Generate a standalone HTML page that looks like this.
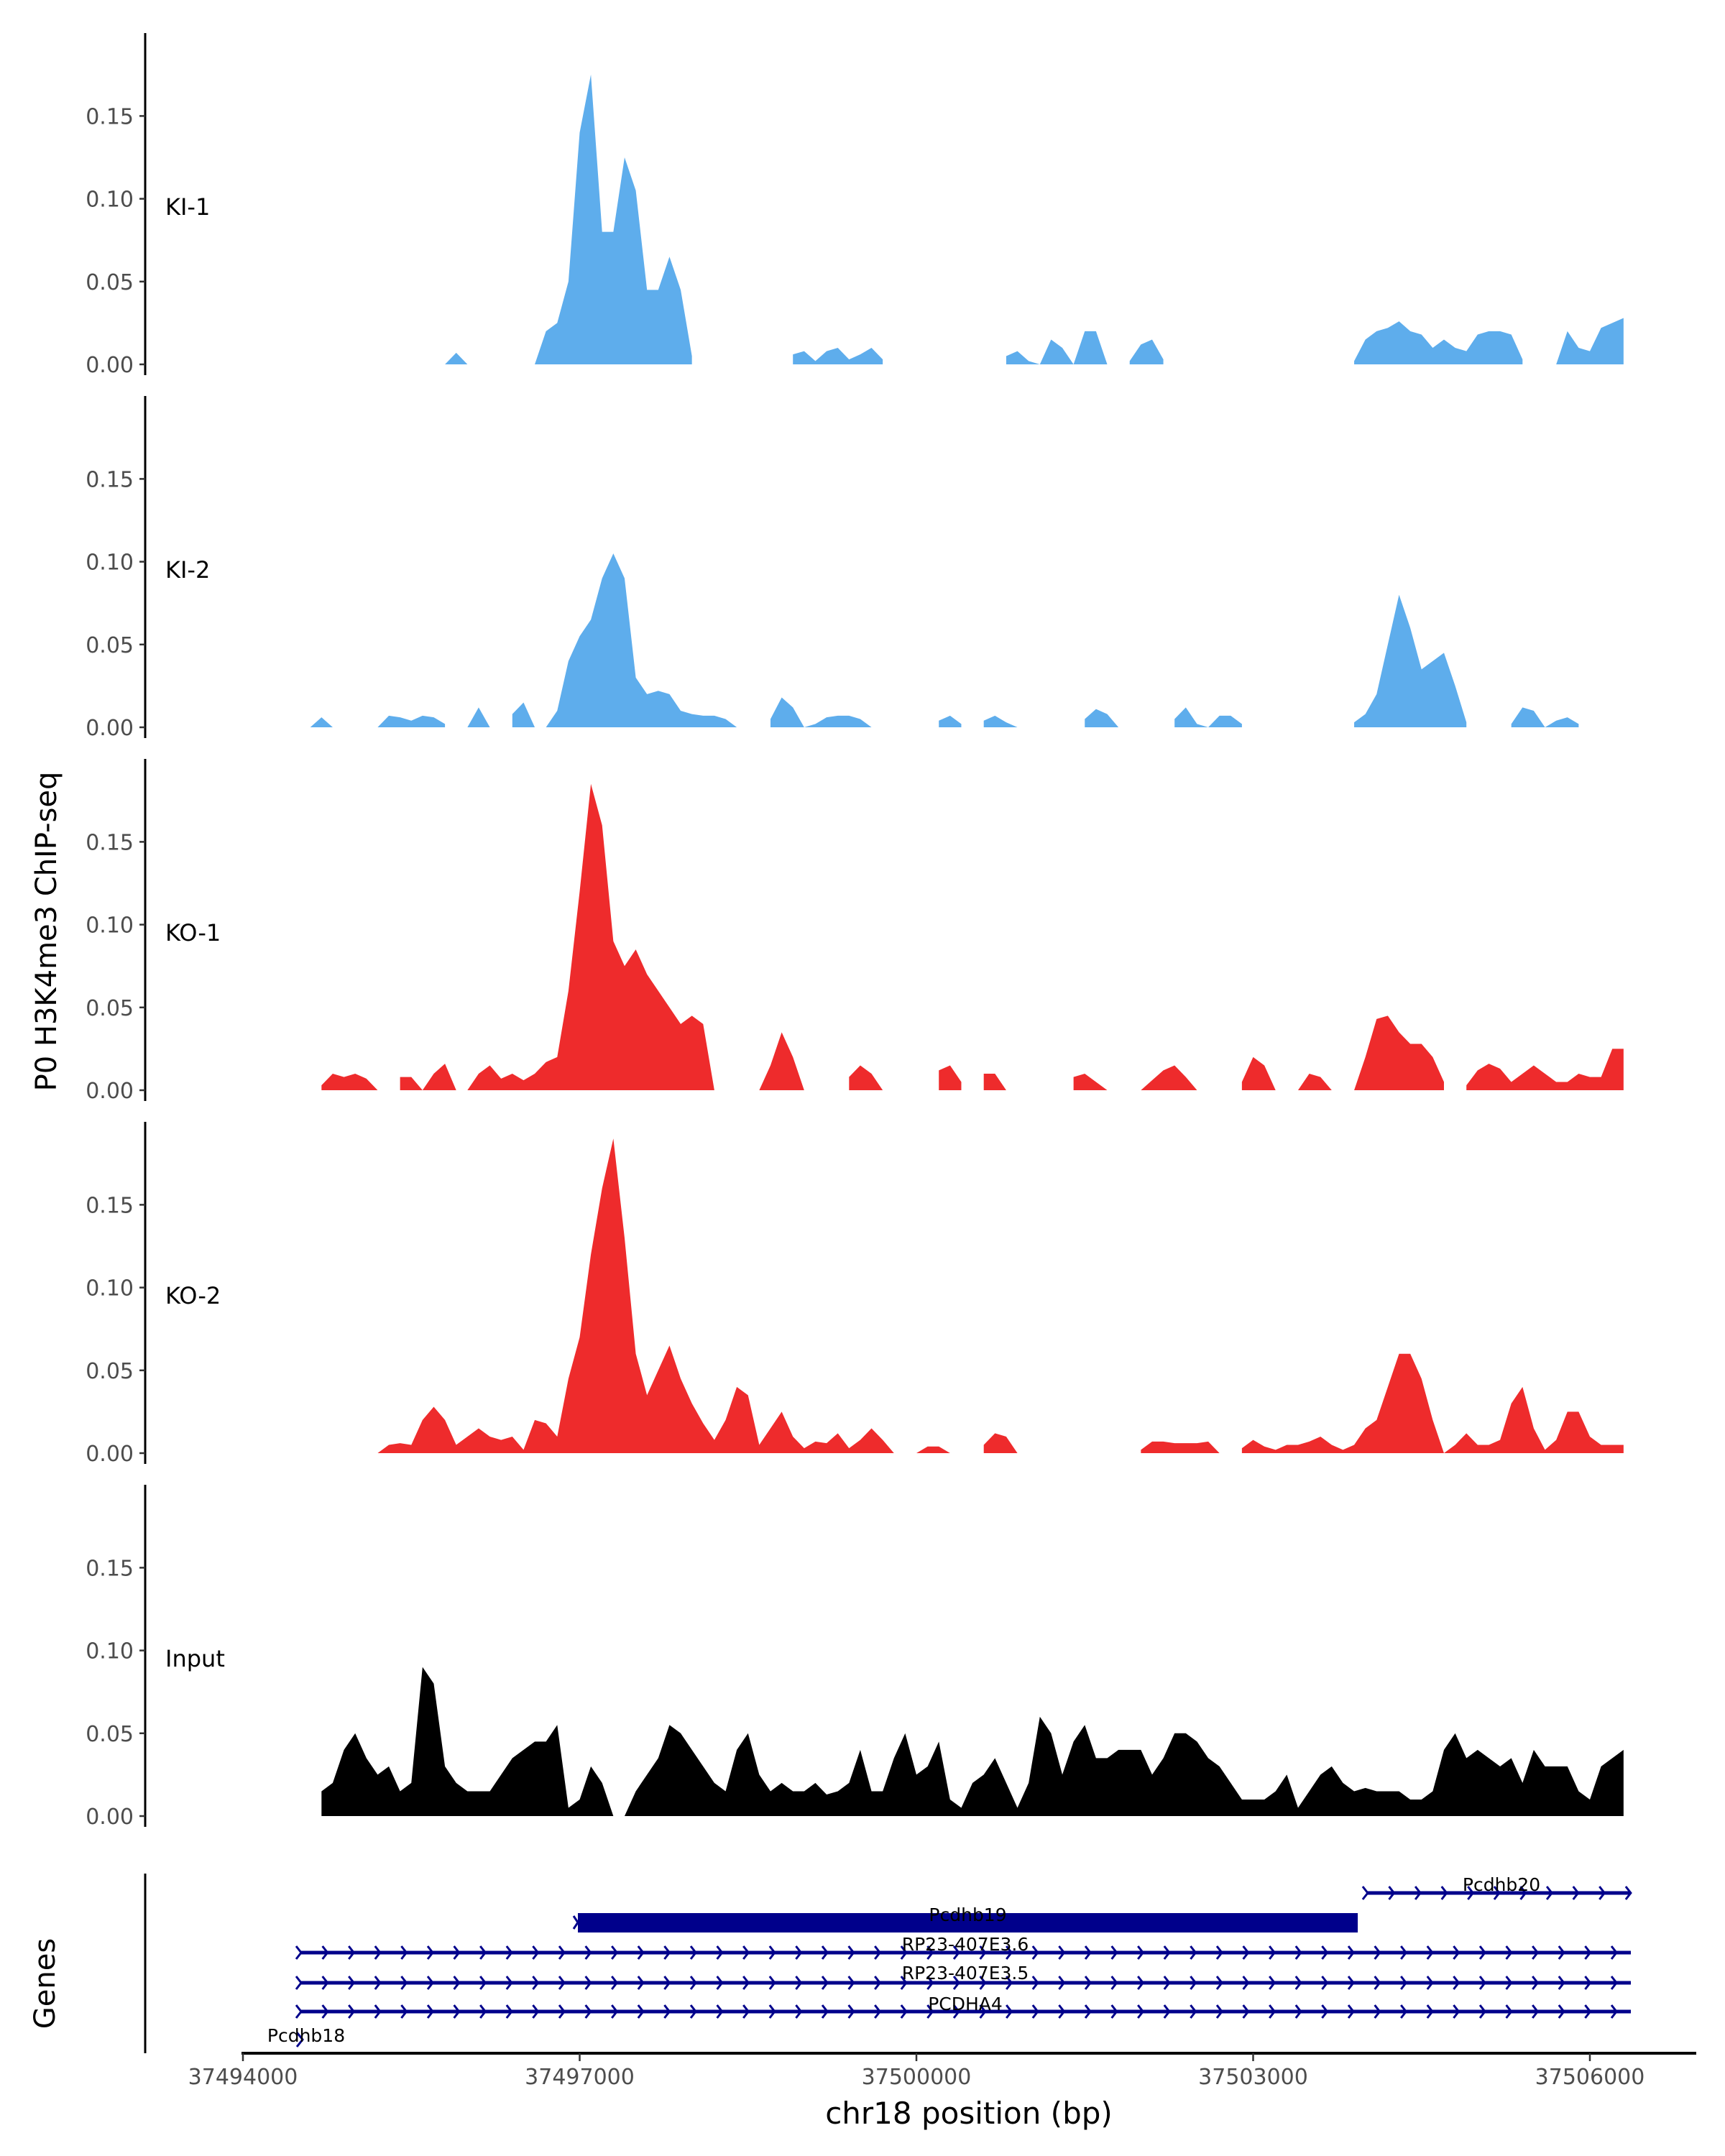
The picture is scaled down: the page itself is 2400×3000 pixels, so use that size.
<!DOCTYPE html>
<html><head><meta charset="utf-8"><style>
html,body{margin:0;padding:0;background:#fff}
svg{display:block;font-family:"DejaVu Sans","Liberation Sans",sans-serif}
</style></head><body>
<svg id="chart" width="2400" height="3000" viewBox="0 0 2400 3000" xmlns="http://www.w3.org/2000/svg">
<g id="tracks"></g>
<g id="genes"></g>
<g id="axes"></g>
<text x="0" y="0" transform="translate(78,1296) rotate(-90)" text-anchor="middle" font-size="40" fill="#000">P0 H3K4me3 ChIP-seq</text>
<text x="0" y="0" transform="translate(76,2760) rotate(-90)" text-anchor="middle" font-size="40" fill="#000">Genes</text>
<text x="1348" y="2955" text-anchor="middle" font-size="42" fill="#000">chr18 position (bp)</text>
</svg>
<script>
const gridStart = 37494500, gridStep = 100;
const sampleNames = ["KI-1","KI-2","KO-1","KO-2","Input"];
const sampleColors = ["#5eadec","#5eadec","#ee2b2c","#ee2b2c","#000000"];
const yTicks = [0, 0.05, 0.10, 0.15];
const yTickLabels = ["0.00","0.05","0.10","0.15"];
const xTicks = [37494000, 37497000, 37500000, 37503000, 37506000];
const N = null;
const ki1 = [N,N,N,N,N,N,N,N,N,N,N,N,N,0,0.007,0,N,N,N,N,N,0,0.02,0.025,0.05,0.14,0.175,0.08,0.08,0.125,0.105,0.045,0.045,0.065,0.045,0.005,N,N,N,N,N,N,N,N,0.006,0.008,0.002,0.008,0.01,0.003,0.006,0.01,0.003,N,N,N,N,N,N,N,N,N,N,0.005,0.008,0.002,0,0.015,0.01,0,0.02,0.02,0,N,0.002,0.012,0.015,0.003,N,N,N,N,N,N,N,N,N,N,N,N,N,N,N,N,0.002,0.015,0.02,0.022,0.026,0.02,0.018,0.01,0.015,0.01,0.008,0.018,0.02,0.02,0.018,0.003,N,N,0,0.02,0.01,0.008,0.022,0.025,0.028];
const ki2 = [N,0,0.006,0,N,N,N,0,0.007,0.006,0.004,0.007,0.006,0.002,N,0,0.012,0,N,0.008,0.015,0,0,0.01,0.04,0.055,0.065,0.09,0.105,0.09,0.03,0.02,0.022,0.02,0.01,0.008,0.007,0.007,0.005,0,N,N,0.005,0.018,0.012,0,0.002,0.006,0.007,0.007,0.005,0,N,N,N,N,N,0.004,0.007,0.002,N,0.004,0.007,0.003,0,N,N,N,N,N,0.005,0.011,0.008,0,N,N,N,N,0.005,0.012,0.002,0,0.007,0.007,0.002,N,N,N,N,N,N,N,N,N,0.003,0.008,0.02,0.05,0.08,0.06,0.035,0.04,0.045,0.025,0.003,N,N,N,0.002,0.012,0.01,0,0.004,0.006,0.002,N,N,N,N];
const ko1 = [N,N,0.003,0.01,0.008,0.01,0.007,0,N,0.008,0.008,0,0.01,0.016,0,0,0.01,0.015,0.007,0.01,0.006,0.01,0.017,0.02,0.06,0.12,0.185,0.16,0.09,0.075,0.085,0.07,0.06,0.05,0.04,0.045,0.04,0,N,N,N,0,0.015,0.035,0.02,0,N,N,N,0.008,0.015,0.01,0,N,N,N,N,0.012,0.015,0.005,N,0.01,0.01,0,N,N,N,N,N,0.008,0.01,0.005,0,N,N,0,0.006,0.012,0.015,0.008,0,N,N,N,0.005,0.02,0.015,0,N,0,0.01,0.008,0,N,0,0.02,0.043,0.045,0.035,0.028,0.028,0.02,0.005,N,0.003,0.012,0.016,0.013,0.005,0.01,0.015,0.01,0.005,0.005,0.01,0.008,0.008,0.025,0.025];
const ko2 = [N,N,N,N,N,N,N,0,0.005,0.006,0.005,0.02,0.028,0.02,0.005,0.01,0.015,0.01,0.008,0.01,0.002,0.02,0.018,0.01,0.045,0.07,0.12,0.16,0.19,0.13,0.06,0.035,0.05,0.065,0.045,0.03,0.018,0.008,0.02,0.04,0.035,0.005,0.015,0.025,0.01,0.003,0.007,0.006,0.012,0.003,0.008,0.015,0.008,0,N,0,0.004,0.004,0,N,N,0.005,0.012,0.01,0,N,N,N,N,N,N,N,N,N,N,0.002,0.007,0.007,0.006,0.006,0.006,0.007,0,N,0.003,0.008,0.004,0.002,0.005,0.005,0.007,0.01,0.005,0.002,0.005,0.015,0.02,0.04,0.06,0.06,0.045,0.02,0,0.005,0.012,0.005,0.005,0.008,0.03,0.04,0.015,0.002,0.008,0.025,0.025,0.01,0.005,0.005,0.005];
const inputTrack = [N,N,0.015,0.02,0.04,0.05,0.035,0.025,0.03,0.015,0.02,0.09,0.08,0.03,0.02,0.015,0.015,0.015,0.025,0.035,0.04,0.045,0.045,0.055,0.005,0.01,0.03,0.02,0,0,0.015,0.025,0.035,0.055,0.05,0.04,0.03,0.02,0.015,0.04,0.05,0.025,0.015,0.02,0.015,0.015,0.02,0.013,0.015,0.02,0.04,0.015,0.015,0.035,0.05,0.025,0.03,0.045,0.01,0.005,0.02,0.025,0.035,0.02,0.005,0.02,0.06,0.05,0.025,0.045,0.055,0.035,0.035,0.04,0.04,0.04,0.025,0.035,0.05,0.05,0.045,0.035,0.03,0.02,0.01,0.01,0.01,0.015,0.025,0.005,0.015,0.025,0.03,0.02,0.015,0.017,0.015,0.015,0.015,0.01,0.01,0.015,0.04,0.05,0.035,0.04,0.035,0.03,0.035,0.02,0.04,0.03,0.03,0.03,0.015,0.01,0.03,0.035,0.04];
const tracks = [ki1, ki2, ko1, ko2, inputTrack];

const geneNames = ["Pcdhb20","Pcdhb19","RP23-407E3.6","RP23-407E3.5","PCDHA4","Pcdhb18"];
const geneStarts = [37504008, 37496984, 37494506, 37494506, 37494506, 37494506];
const geneEnds = [37506365, 37503932, 37506365, 37506365, 37506365, 37494530];

const NS = "http://www.w3.org/2000/svg";
const xScale = bp => 338 + (bp - 37494000) / 3000 * 468.5;
const panelBase = p => 507 + p * 505;
const yScale = (p, v) => panelBase(p) - v * 2304;
function mk(tag, attrs, parent){const e=document.createElementNS(NS,tag);for(const k in attrs)e.setAttribute(k,attrs[k]);parent.appendChild(e);return e;}

const gT = document.getElementById('tracks');
const gA = document.getElementById('axes');
const gG = document.getElementById('genes');

tracks.forEach((vals, p) => {
  let run = [];
  const flush = () => {
    if (run.length) {
      const b = panelBase(p);
      let d = "M" + xScale(run[0][0]) + "," + b;
      run.forEach(([bp, v]) => { d += " L" + xScale(bp) + "," + yScale(p, v); });
      d += " L" + xScale(run[run.length-1][0]) + "," + b + " Z";
      const path = mk('path', {d: d, fill: sampleColors[p]}, gT);
      
      
    }
    run = [];
  };
  vals.forEach((v, i) => { if (v === null) flush(); else run.push([gridStart + i * gridStep, v]); });
  flush();

  const top = 46 + p * 505, bot = 522 + p * 505;
  const ax = mk('line', {x1:202, x2:202, y1:top, y2:bot, stroke:'#000', 'stroke-width':3}, gA);
  
  
  yTicks.forEach((t, k) => {
    const y = yScale(p, t);
    const tk = mk('line', {x1:194, x2:202, y1:y, y2:y, stroke:'#333', 'stroke-width':2.5}, gA);
    
    
    const tl = mk('text', {x:186, y:y + 11, 'text-anchor':'end', 'font-size':30, fill:'#4d4d4d'}, gA);
    tl.textContent = yTickLabels[k];
    
    
  });
  const lab = mk('text', {x:230, y:panelBase(p) - 208, 'font-size':32, fill:'#000'}, gA);
  lab.textContent = sampleNames[p];
  
  
});

const gax = mk('line', {x1:202, x2:202, y1:2607, y2:2857, stroke:'#000', 'stroke-width':3}, gA);


const xax = mk('line', {x1:336, x2:2360, y1:2857, y2:2857, stroke:'#000', 'stroke-width':4}, gA);


xTicks.forEach(t => {
  const x = xScale(t);
  const tk = mk('line', {x1:x, x2:x, y1:2857, y2:2868, stroke:'#333', 'stroke-width':2.5}, gA);
  
  
  const tl = mk('text', {x:x, y:2900, 'text-anchor':'middle', 'font-size':30, fill:'#4d4d4d'}, gA);
  tl.textContent = String(t);
  
  
});

const rowY = [2634, 2675, 2717, 2759, 2799, 2838];
const labY = [2634, 2676, 2717, 2757, 2800, 2844];
geneNames.forEach((g, i) => {
  const x1 = xScale(geneStarts[i]), x2 = xScale(geneEnds[i]), y = rowY[i];
  if (g === "Pcdhb19") {
    const r = mk('rect', {x:x1, y:y-13, width:x2-x1, height:27, fill:'#00008b'}, gG);
    
    
    const c = mk('path', {d:`M${x1-6},${y-9} L${x1},${y} L${x1-6},${y+9}`, fill:'none', stroke:'#00008b', 'stroke-width':3}, gG);
    
    
  } else if (g === "Pcdhb18") {
    const c = mk('path', {d:`M${x1-4},${y-10} L${x1+4},${y} L${x1-4},${y+10}`, fill:'none', stroke:'#00008b', 'stroke-width':3}, gG);
    
    
  } else {
    const l = mk('line', {x1:x1, x2:x2, y1:y, y2:y, stroke:'#00008b', 'stroke-width':5}, gG);
    
    
    let d = "";
    for (let x = x1; x <= x2 + 1; x += 36.6) d += `M${x-5},${y-9} L${x+2},${y} L${x-5},${y+9} `;
    const c = mk('path', {d:d, fill:'none', stroke:'#00008b', 'stroke-width':3}, gG);
    
    
  }
  let lx = (x1 + x2) / 2;
  if (g === "Pcdhb20") lx = 2089;
  if (g === "Pcdhb18") lx = 426;
  const t = mk('text', {x:lx, y:labY[i] - 3, 'text-anchor':'middle', 'font-size':25, fill:'#000'}, gG);
  t.textContent = g;
  
  
});
</script>
</body></html>
